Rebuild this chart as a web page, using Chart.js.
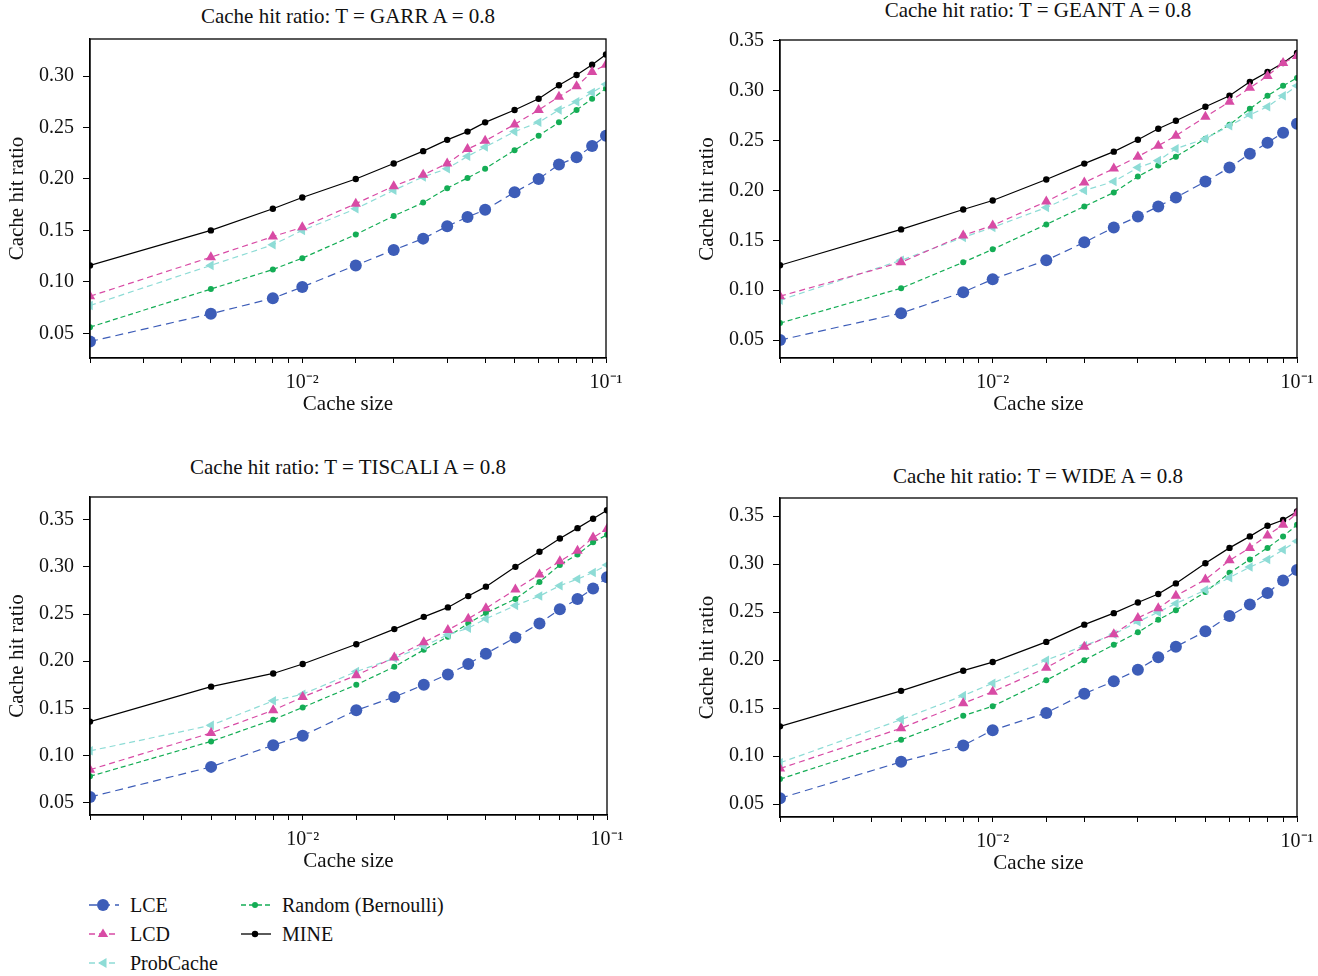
<!DOCTYPE html>
<html lang="en">
<head>
    <meta charset="UTF-8">
    <title>Cache hit ratio</title>
    <script src="https://cdn.jsdelivr.net/npm/chart.js"></script>
    <style>
        body {
            margin: 0;
            padding: 0;
            background-color: #fff;
            font-family: "Liberation Serif", serif;
        }

        .page {
            position: relative;
            width: 1318px;
            height: 976px;
            overflow: hidden;
        }

        .page canvas {
            position: absolute;
        }

        .title {
            position: absolute;
            width: 520px;
            text-align: center;
            font-size: 21px;
            color: #111;
            line-height: 24px;
        }

        .legend {
            position: absolute;
            left: 88px;
            top: 891px;
            font-size: 20px;
            color: #111;
        }

        .legend .item {
            position: absolute;
            white-space: nowrap;
            height: 28px;
            line-height: 28px;
        }

        .legend svg {
            position: absolute;
            left: 0;
            top: 7px;
        }

        .legend span {
            position: absolute;
            left: 42px;
        }
    </style>
</head>
<body>
    <div class="page">
        <div class="title" style="left: 88px; top: 4px;">Cache hit ratio: T = GARR A = 0.8</div>
        <div class="title" style="left: 778px; top: -2px;">Cache hit ratio: T = GEANT A = 0.8</div>
        <div class="title" style="left: 88px; top: 455px;">Cache hit ratio: T = TISCALI A = 0.8</div>
        <div class="title" style="left: 778px; top: 464px;">Cache hit ratio: T = WIDE A = 0.8</div>

        <canvas id="garr" width="636" height="402" style="left: 0px; top: 18px;"></canvas>
        <canvas id="geant" width="637" height="401" style="left: 690px; top: 19px;"></canvas>
        <canvas id="tiscali" width="637" height="401" style="left: 0px; top: 476px;"></canvas>
        <canvas id="wide" width="637" height="402" style="left: 690px; top: 477px;"></canvas>

        <div class="legend" id="legend"></div>
    </div>

    <script>
        // cache sizes (fraction of content catalogue)
        const cacheSize = [0.002, 0.005, 0.008, 0.01, 0.015, 0.02, 0.025, 0.03, 0.035, 0.04, 0.05, 0.06, 0.07, 0.08, 0.09, 0.1];
        const seriesNames = ['LCE', 'LCD', 'ProbCache', 'Random (Bernoulli)', 'MINE'];

        // GARR
        const garrLCE = [0.042, 0.069, 0.084, 0.095, 0.116, 0.131, 0.142, 0.154, 0.163, 0.170, 0.187, 0.200, 0.214, 0.221, 0.232, 0.242];
        const garrLCD = [0.086, 0.124, 0.144, 0.153, 0.176, 0.193, 0.204, 0.215, 0.229, 0.237, 0.253, 0.267, 0.280, 0.290, 0.304, 0.311];
        const garrProb = [0.077, 0.116, 0.136, 0.150, 0.171, 0.189, 0.202, 0.210, 0.222, 0.231, 0.246, 0.255, 0.267, 0.275, 0.284, 0.292];
        const garrRandom = [0.056, 0.093, 0.112, 0.123, 0.146, 0.164, 0.177, 0.191, 0.201, 0.210, 0.228, 0.242, 0.255, 0.267, 0.278, 0.288];
        const garrMine = [0.116, 0.150, 0.171, 0.182, 0.200, 0.215, 0.227, 0.238, 0.246, 0.255, 0.267, 0.278, 0.291, 0.301, 0.311, 0.321];

        // GEANT
        const geantLCE = [0.050, 0.077, 0.098, 0.111, 0.130, 0.148, 0.163, 0.174, 0.184, 0.193, 0.209, 0.223, 0.237, 0.248, 0.258, 0.267];
        const geantLCD = [0.094, 0.128, 0.155, 0.165, 0.189, 0.208, 0.222, 0.234, 0.245, 0.255, 0.274, 0.289, 0.303, 0.315, 0.328, 0.335];
        const geantProb = [0.090, 0.130, 0.153, 0.163, 0.183, 0.200, 0.209, 0.223, 0.230, 0.242, 0.252, 0.265, 0.276, 0.284, 0.295, 0.305];
        const geantRandom = [0.067, 0.102, 0.128, 0.141, 0.166, 0.184, 0.198, 0.214, 0.225, 0.234, 0.252, 0.266, 0.282, 0.295, 0.305, 0.313];
        const geantMine = [0.125, 0.161, 0.181, 0.190, 0.211, 0.227, 0.239, 0.251, 0.262, 0.270, 0.284, 0.295, 0.309, 0.319, 0.328, 0.338];

        // TISCALI
        const tiscaliLCE = [0.056, 0.088, 0.111, 0.121, 0.148, 0.162, 0.175, 0.186, 0.197, 0.208, 0.225, 0.240, 0.255, 0.266, 0.277, 0.289];
        const tiscaliLCD = [0.085, 0.124, 0.148, 0.162, 0.185, 0.204, 0.220, 0.233, 0.245, 0.256, 0.276, 0.292, 0.306, 0.317, 0.331, 0.340];
        const tiscaliProb = [0.105, 0.132, 0.158, 0.165, 0.189, 0.203, 0.216, 0.228, 0.235, 0.245, 0.259, 0.269, 0.280, 0.287, 0.294, 0.302];
        const tiscaliRandom = [0.078, 0.115, 0.138, 0.151, 0.175, 0.194, 0.212, 0.226, 0.240, 0.251, 0.266, 0.284, 0.302, 0.313, 0.326, 0.334];
        const tiscaliMine = [0.136, 0.173, 0.187, 0.197, 0.218, 0.234, 0.247, 0.257, 0.269, 0.279, 0.300, 0.316, 0.330, 0.341, 0.351, 0.360];

        // WIDE
        const wideLCE = [0.056, 0.094, 0.111, 0.127, 0.145, 0.165, 0.178, 0.190, 0.203, 0.214, 0.230, 0.246, 0.258, 0.270, 0.283, 0.294];
        const wideLCD = [0.087, 0.129, 0.155, 0.167, 0.192, 0.214, 0.227, 0.244, 0.254, 0.267, 0.284, 0.304, 0.317, 0.330, 0.341, 0.353];
        const wideProb = [0.093, 0.138, 0.163, 0.176, 0.200, 0.215, 0.227, 0.240, 0.250, 0.259, 0.273, 0.286, 0.297, 0.305, 0.315, 0.324];
        const wideRandom = [0.076, 0.117, 0.142, 0.152, 0.179, 0.200, 0.216, 0.229, 0.242, 0.252, 0.271, 0.291, 0.305, 0.317, 0.329, 0.341];
        const wideMine = [0.131, 0.168, 0.189, 0.198, 0.219, 0.237, 0.249, 0.260, 0.269, 0.280, 0.301, 0.317, 0.329, 0.340, 0.346, 0.355];

        // one style per series, same order as seriesNames
        const styles = [
            { color: '#3d5db8', dash: [8, 5], point: 'circle', radius: 6, rotation: 0 },
            { color: '#d84ba5', dash: [6, 4], point: 'triangle', radius: 6, rotation: 0 },
            { color: '#8edcd6', dash: [6, 4], point: 'triangle', radius: 5.5, rotation: 270 },
            { color: '#14ad55', dash: [5, 3], point: 'circle', radius: 3, rotation: 0 },
            { color: '#000000', dash: [], point: 'circle', radius: 3.2, rotation: 0 }
        ];

        const font = "'Liberation Serif', serif";

        // box around the plot area
        const frame = {
            id: 'frame',
            afterDraw(chart) {
                const a = chart.chartArea;
                const ctx = chart.ctx;
                ctx.save();
                ctx.strokeStyle = '#000';
                ctx.lineWidth = 1.3;
                ctx.strokeRect(a.left, a.top, a.right - a.left, a.bottom - a.top);
                ctx.restore();
            }
        };

        function isPow(v, p) {
            return Math.abs(Math.log10(v) - p) < 1e-6;
        }

        function makeChart(id, series, yMin, yMax) {
            const datasets = series.map((values, i) => ({
                label: seriesNames[i],
                data: values.map((v, k) => ({ x: cacheSize[k], y: v })),
                borderColor: styles[i].color,
                backgroundColor: styles[i].color,
                borderWidth: 1.2,
                borderDash: styles[i].dash,
                pointStyle: styles[i].point,
                pointRadius: styles[i].radius,
                pointRotation: styles[i].rotation,
                pointBorderWidth: 0,
                tension: 0
            }));

            return new Chart(document.getElementById(id), {
                type: 'line',
                data: { datasets: datasets },
                options: {
                    responsive: false,
                    animation: false,
                    layout: { padding: { top: 12, right: 30, left: 0, bottom: 0 } },
                    plugins: {
                        legend: { display: false },
                        tooltip: { enabled: false }
                    },
                    scales: {
                        x: {
                            type: 'logarithmic',
                            min: 0.002,
                            max: 0.1,
                            afterFit(scale) { scale.height = 62; },
                            border: { display: true, color: '#000', width: 1.3 },
                            grid: { drawOnChartArea: false, drawTicks: true, tickLength: 5, color: '#000', lineWidth: 1 },
                            ticks: {
                                autoSkip: false,
                                maxRotation: 0,
                                padding: 8,
                                color: '#111',
                                font: { family: font, size: 20 },
                                callback: (v) => isPow(v, -2) ? '10\u207B\u00B2' : (isPow(v, -1) ? '10\u207B\u00B9' : '')
                            },
                            title: {
                                display: true,
                                text: 'Cache size',
                                color: '#111',
                                font: { family: font, size: 21 },
                                padding: { top: 0, bottom: 3 }
                            }
                        },
                        y: {
                            min: yMin,
                            max: yMax,
                            afterFit(scale) { scale.width = 90; },
                            border: { display: true, color: '#000', width: 1.3 },
                            grid: { drawOnChartArea: false, drawTicks: true, tickLength: 7, color: '#000', lineWidth: 1 },
                            ticks: {
                                stepSize: 0.05,
                                includeBounds: false,
                                padding: 9,
                                color: '#111',
                                font: { family: font, size: 20 },
                                callback: (v) => v.toFixed(2)
                            },
                            title: {
                                display: true,
                                text: 'Cache hit ratio',
                                color: '#111',
                                font: { family: font, size: 21 },
                                padding: { top: 5, bottom: 0 }
                            }
                        }
                    }
                },
                plugins: [frame]
            });
        }

        makeChart('garr', [garrLCE, garrLCD, garrProb, garrRandom, garrMine], 0.026, 0.336);
        makeChart('geant', [geantLCE, geantLCD, geantProb, geantRandom, geantMine], 0.032, 0.351);
        makeChart('tiscali', [tiscaliLCE, tiscaliLCD, tiscaliProb, tiscaliRandom, tiscaliMine], 0.037, 0.374);
        makeChart('wide', [wideLCE, wideLCD, wideProb, wideRandom, wideMine], 0.0365, 0.369);

        // legend below the bottom-left panel
        const legendPos = [[0, 0], [0, 29], [0, 58], [152, 0], [152, 29]];
        const legend = document.getElementById('legend');
        seriesNames.forEach((name, i) => {
            const s = styles[i];
            let marker = '';
            if (s.point === 'circle') {
                marker = '<circle cx="15" cy="7" r="' + s.radius + '" fill="' + s.color + '"/>';
            } else if (s.rotation === 0) {
                marker = '<polygon points="15,1.5 20.2,10 9.8,10" fill="' + s.color + '"/>';
            } else {
                marker = '<polygon points="10,7 18.5,2 18.5,12" fill="' + s.color + '"/>';
            }
            const dash = s.dash.length ? ' stroke-dasharray="' + s.dash.join(',') + '"' : '';
            const item = document.createElement('div');
            item.className = 'item';
            item.style.left = legendPos[i][0] + 'px';
            item.style.top = legendPos[i][1] + 'px';
            item.innerHTML = '<svg width="32" height="14"><line x1="1" y1="7" x2="31" y2="7" stroke="' + s.color + '" stroke-width="1.3"' + dash + '/>' + marker + '</svg><span>' + name + '</span>';
            legend.appendChild(item);
        });
    </script>
</body>
</html>
